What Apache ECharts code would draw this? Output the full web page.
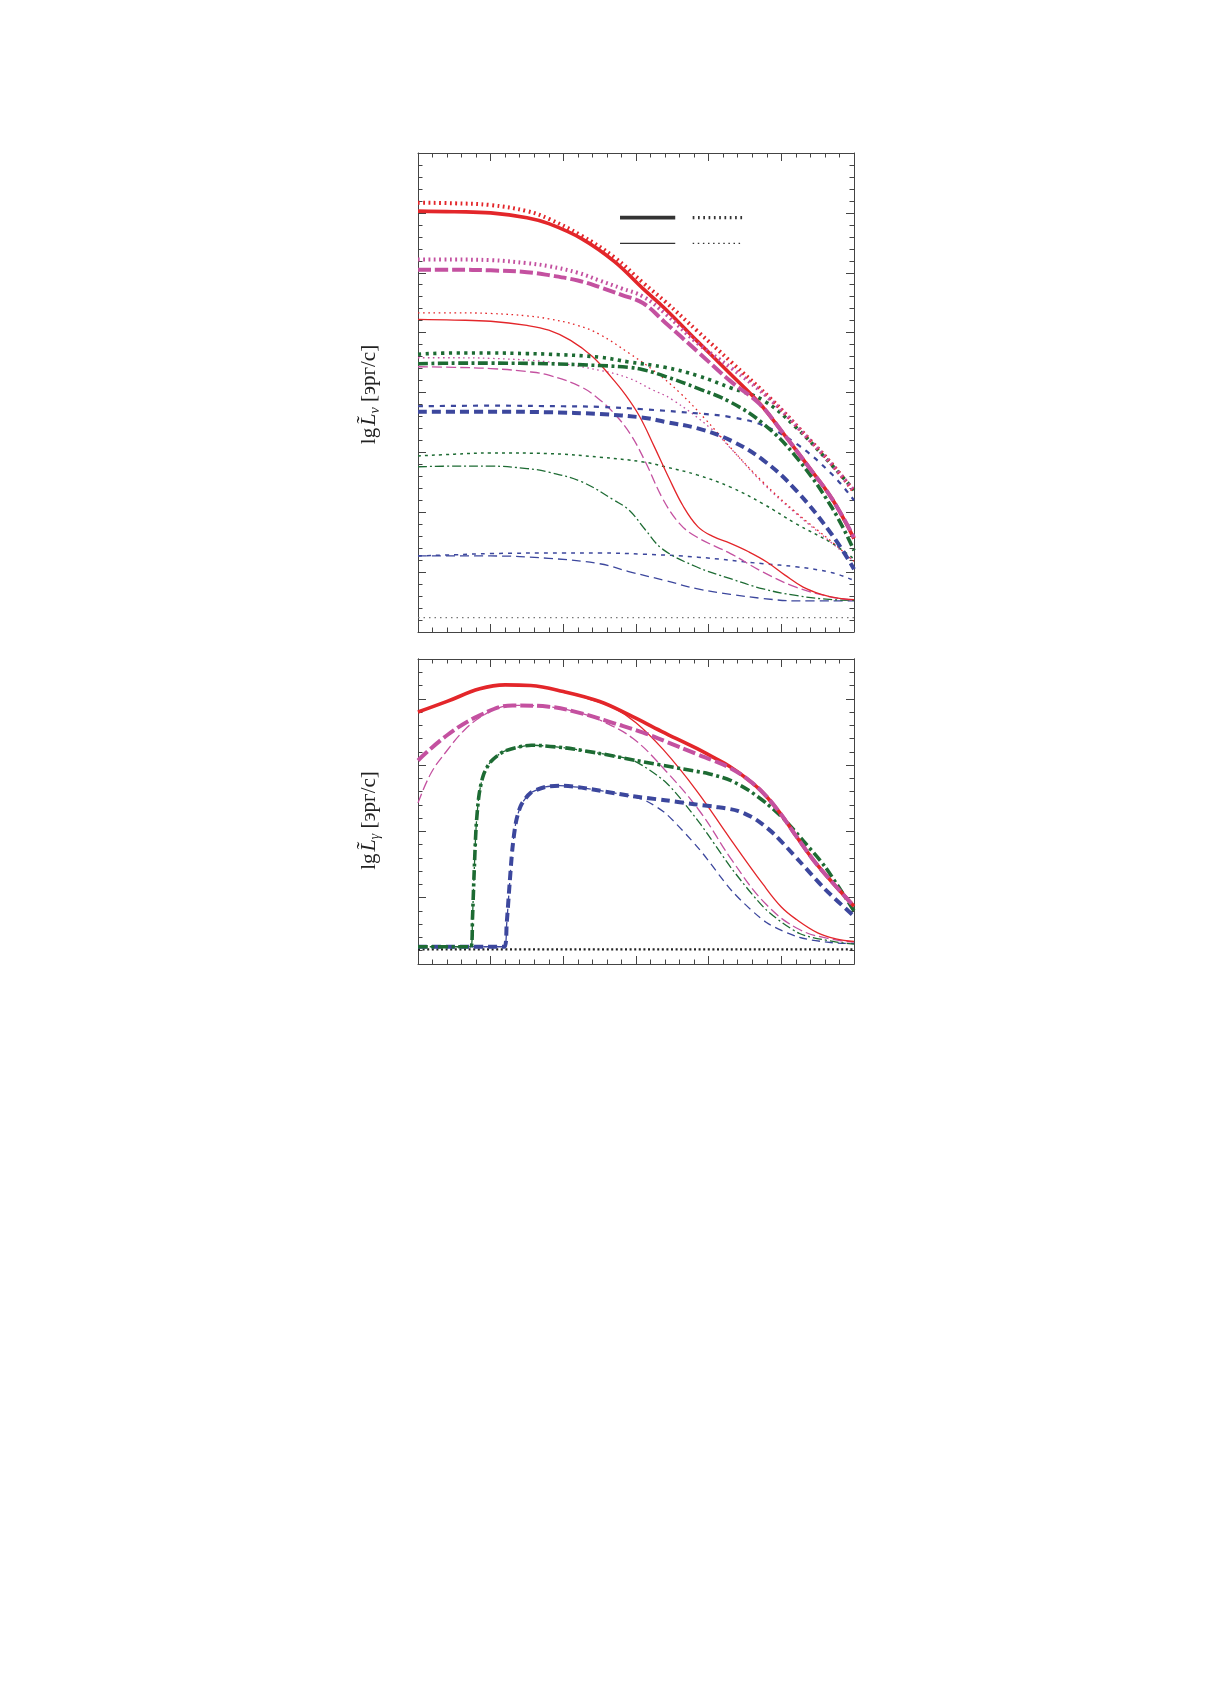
<!DOCTYPE html>
<html>
<head>
<meta charset="utf-8">
<script src="https://cdn.jsdelivr.net/npm/echarts@6/dist/echarts.min.js"></script>
<style>
html,body{margin:0;padding:0;background:#fff;}
#chart{width:1210px;height:1683px;}
</style>
</head>
<body>
<div id="chart"></div>
<script>
// ---------- Top panel: lg L~_nu ----------
const xTicks = [0, 1, 2, 3, 4, 5, 6];
const nuRedThick = [[0,7.03],[0.5,7.02],[1,7.00],[1.5,6.92],[1.8,6.82],[2.25,6.57],[2.7,6.19],[3.1,5.73],[3.4,5.40],[3.85,4.85],[4.3,4.31],[4.7,3.82],[5.0,3.36],[5.4,2.72],[5.7,2.22],[6,1.56]];
const nuRedThickDot = [[0,7.17],[0.5,7.16],[1,7.13],[1.5,7.03],[1.8,6.90],[2.25,6.62],[2.7,6.26],[3.1,5.83],[3.4,5.52],[3.85,5.02],[4.3,4.52],[4.85,3.90],[5.4,3.20],[5.7,2.80],[6,2.34]];
const nuMagThick = [[0,6.05],[0.5,6.05],[1,6.04],[1.5,6.01],[1.8,5.96],[2.2,5.87],[2.5,5.76],[2.8,5.63],[3.1,5.49],[3.4,5.17],[3.85,4.68],[4.3,4.19],[4.7,3.81],[5.0,3.36],[5.4,2.72],[5.7,2.22],[6,1.58]];
const nuMagThickDot = [[0,6.22],[0.5,6.22],[1,6.21],[1.5,6.16],[1.8,6.11],[2.2,6.00],[2.5,5.87],[2.8,5.74],[3.1,5.60],[3.4,5.32],[3.85,4.82],[4.3,4.42],[4.85,3.88],[5.4,3.19],[5.7,2.79],[6,2.36]];
const nuRedThin = [[0,5.22],[0.5,5.21],[1,5.19],[1.5,5.12],[1.8,5.04],[2.1,4.87],[2.4,4.60],[2.65,4.27],[2.85,3.97],[3.05,3.60],[3.25,3.10],[3.45,2.58],[3.65,2.10],[3.85,1.76],[4.05,1.60],[4.3,1.48],[4.55,1.34],[4.8,1.17],[5.05,0.95],[5.3,0.75],[5.55,0.63],[5.8,0.56],[6,0.54]];
const nuRedThinDot = [[0,5.33],[0.5,5.33],[1,5.32],[1.5,5.28],[1.8,5.23],[2.2,5.12],[2.5,4.97],[2.9,4.66],[3.25,4.36],[3.6,4.00],[3.95,3.56],[4.3,3.08],[4.75,2.50],[5.2,2.00],[5.7,1.50],[6,1.18]];
const nuMagThin = [[0,4.43],[0.5,4.42],[1,4.40],[1.5,4.35],[1.8,4.29],[2.25,4.09],[2.5,3.88],[2.7,3.65],[2.92,3.31],[3.13,2.84],[3.37,2.22],[3.6,1.81],[3.83,1.59],[4.3,1.31],[4.75,1.00],[5.2,0.75],[5.7,0.58],[6,0.53]];
const nuMagThinDot = [[0,4.58],[0.5,4.58],[1,4.57],[1.8,4.51],[2.5,4.37],[2.9,4.24],[3.2,4.06],[3.5,3.88],[4.05,3.38],[4.3,3.07],[4.75,2.48],[5.2,1.98],[5.7,1.48],[6,1.18]];
const nuGreenThick = [[0,4.48],[0.5,4.49],[1,4.49],[1.8,4.48],[2.5,4.45],[2.9,4.42],[3.1,4.38],[3.4,4.27],[3.85,4.07],[4.3,3.84],[4.75,3.48],[5.2,2.93],[5.7,2.07],[6,1.36]];
const nuGreenThickDot = [[0,4.64],[0.5,4.66],[1,4.66],[1.5,4.65],[1.8,4.64],[2.5,4.59],[2.9,4.51],[3.4,4.42],[3.85,4.28],[4.3,4.08],[4.75,3.87],[5.2,3.42],[5.7,2.78],[6,2.37]];
const nuGreenThin = [[0,2.76],[0.5,2.77],[1,2.77],[1.5,2.73],[1.8,2.67],[2.25,2.51],[2.7,2.20],[2.91,2.03],[3.12,1.72],[3.37,1.38],[3.83,1.09],[4.3,0.89],[4.75,0.72],[5.2,0.61],[5.7,0.54],[6,0.53]];
const nuGreenThinDot = [[0,2.94],[0.5,2.97],[1,2.99],[1.8,2.98],[2.5,2.92],[3.1,2.84],[3.4,2.76],[3.85,2.62],[4.3,2.42],[4.75,2.14],[5.2,1.81],[5.7,1.48],[6,1.22]];
const nuBlueThick = [[0,3.68],[1,3.68],[1.8,3.67],[2.5,3.64],[3.1,3.58],[3.4,3.51],[3.85,3.40],[4.3,3.20],[4.75,2.87],[5.2,2.37],[5.7,1.62],[6,1.05]];
const nuBlueThickDot = [[0,3.77],[1,3.78],[2,3.77],[2.5,3.76],[3.1,3.72],[3.85,3.65],[4.3,3.59],[4.75,3.45],[5.2,3.15],[5.7,2.63],[6,2.20]];
const nuBlueThin = [[0,1.27],[1,1.27],[1.8,1.23],[2.5,1.14],[2.9,1.01],[3.4,0.86],[3.85,0.72],[4.3,0.63],[4.75,0.56],[5.2,0.52],[6,0.52]];
const nuBlueThinDot = [[0,1.27],[0.5,1.29],[1,1.31],[2,1.32],[2.5,1.32],[3.1,1.30],[3.85,1.25],[4.75,1.14],[5.2,1.09],[5.7,0.99],[6,0.86]];
const nuBaseline = [[0,0.24],[6,0.24]];
// legend samples (no text in the original)
const legThickSolid = [[2.78,6.92],[3.54,6.92]];
const legThickDot = [[3.78,6.92],[4.47,6.92]];
const legThinSolid = [[2.78,6.49],[3.54,6.49]];
const legThinDot = [[3.78,6.49],[4.47,6.49]];

// ---------- Bottom panel: lg L~_gamma ----------
const gRedThick = [[0,3.80],[0.4,3.96],[0.85,4.15],[1.2,4.21],[1.55,4.20],[2.0,4.11],[2.5,3.96],[2.9,3.76],[3.35,3.51],[3.8,3.27],[4.06,3.12],[4.29,2.98],[4.52,2.80],[4.75,2.58],[4.98,2.28],[5.21,1.92],[5.44,1.57],[5.67,1.27],[6,0.87]];
const gRedThin = [[0,3.80],[0.4,3.96],[0.85,4.15],[1.2,4.21],[1.55,4.20],[2.0,4.11],[2.4,3.98],[2.7,3.86],[3.0,3.64],[3.37,3.24],[3.83,2.62],[4.29,1.90],[4.75,1.20],[5.0,0.86],[5.21,0.67],[5.5,0.47],[5.75,0.38],[6,0.34]];
const gMagThick = [[0,3.07],[0.4,3.45],[0.85,3.75],[1.3,3.90],[1.8,3.88],[2.25,3.78],[2.7,3.63],[3.1,3.49],[3.4,3.36],[3.85,3.16],[4.06,3.07],[4.29,2.96],[4.52,2.80],[4.75,2.58],[4.98,2.28],[5.21,1.92],[5.44,1.57],[5.67,1.27],[6,0.87]];
const gMagThin = [[0,2.43],[0.18,2.88],[0.4,3.22],[0.64,3.53],[0.87,3.73],[1.1,3.86],[1.3,3.90],[1.8,3.88],[2.25,3.78],[2.5,3.68],[2.96,3.40],[3.42,2.90],[3.88,2.30],[4.33,1.55],[4.79,0.90],[5.25,0.52],[5.71,0.37],[6,0.33]];
const gGreenThick = [[0,0.26],[0.73,0.26],[0.75,0.7],[0.77,1.3],[0.80,2.07],[0.84,2.55],[0.9,2.85],[1.0,3.05],[1.19,3.21],[1.56,3.30],[2.02,3.26],[2.48,3.18],[3.0,3.07],[3.65,2.94],[4.0,2.87],[4.3,2.77],[4.55,2.62],[4.8,2.42],[5.05,2.17],[5.3,1.86],[5.6,1.47],[6,0.80]];
const gGreenThin = [[0,0.26],[0.73,0.26],[0.75,0.7],[0.77,1.3],[0.80,2.07],[0.84,2.55],[0.9,2.85],[1.0,3.05],[1.19,3.21],[1.56,3.30],[2.02,3.26],[2.48,3.18],[2.96,3.07],[3.42,2.73],[3.88,2.12],[4.33,1.42],[4.79,0.82],[5.25,0.46],[5.71,0.34],[6,0.30]];
const gBlueThick = [[0,0.26],[1.19,0.26],[1.22,0.6],[1.26,1.2],[1.30,1.75],[1.35,2.15],[1.42,2.40],[1.55,2.58],[1.75,2.67],[1.95,2.69],[2.25,2.66],[2.96,2.53],[3.4,2.47],[3.8,2.41],[4.1,2.37],[4.4,2.31],[4.65,2.18],[4.9,1.96],[5.25,1.55],[5.6,1.13],[6,0.72]];
const gBlueThin = [[0,0.26],[1.19,0.26],[1.22,0.6],[1.26,1.2],[1.30,1.75],[1.35,2.15],[1.42,2.40],[1.55,2.58],[1.75,2.67],[1.95,2.69],[2.25,2.66],[2.9,2.54],[3.14,2.46],[3.42,2.26],[3.88,1.72],[4.33,1.09],[4.79,0.63],[5.25,0.40],[5.71,0.32],[6,0.31]];
const gBaseline = [[0,0.22],[6,0.22]];

const C = { red:'#e3262a', mag:'#c451a0', green:'#1d6b33', blue:'#3c479d', gray:'#777', black:'#222', leg:'#333' };
const THICK = 3.6, THIN = 1.3;
const FONT = "'Liberation Serif','DejaVu Serif',serif";
const FRAME = '#444';

function line(data, color, width, type, grid, z, smooth) {
  return {
    type: 'line', data: data, xAxisIndex: grid === 0 ? 0 : 2, yAxisIndex: grid === 0 ? 0 : 2,
    smooth: smooth === undefined ? 0.4 : smooth, showSymbol: false, symbol: 'none', silent: true, animation: false,
    z: z || 2, clip: true,
    lineStyle: { color: color, width: width, type: type, cap: 'butt', join: 'round' }
  };
}

function xAx(grid, pos) {
  return {
    type: 'value', gridIndex: grid, position: pos, min: 0, max: 6, interval: 1,
    axisLine: { show: true, onZero: false, lineStyle: { color: FRAME, width: 1 } },
    axisTick: { show: true, inside: true, length: 8, lineStyle: { color: FRAME, width: 1 } },
    minorTick: { show: true, splitNumber: 5, length: 4.5, lineStyle: { color: FRAME, width: 1 } },
    axisLabel: { show: false }, splitLine: { show: false }, minorSplitLine: { show: false }
  };
}
function yAx(grid, pos, max, interval, tickLen, minor, name, shift) {
  const a = {
    type: 'value', gridIndex: grid, position: pos, min: 0, max: max, interval: interval,
    axisLine: { show: true, onZero: false, lineStyle: { color: FRAME, width: 1 } },
    axisTick: { show: true, inside: true, length: tickLen, lineStyle: { color: FRAME, width: 1 } },
    minorTick: { show: minor, splitNumber: 5, length: 4.5, lineStyle: { color: FRAME, width: 1 } },
    axisLabel: { show: false }, splitLine: { show: false }, minorSplitLine: { show: false }
  };
  if (name) {
    a.name = name;
    a.nameLocation = 'middle';
    a.nameGap = 35;
    a.nameRotate = 90;
    a.nameTextStyle = {
      fontFamily: FONT, fontSize: 21, color: '#222', padding: [0, shift || 0, 0, 0],
      rich: {
        n: { fontFamily: FONT, fontSize: 21, color: '#222', lineHeight: 28, verticalAlign: 'middle' },
        i: { fontFamily: FONT, fontSize: 22, fontStyle: 'italic', color: '#222', lineHeight: 28, verticalAlign: 'middle', padding: [0, 0, 0, 2] },
        s: { fontFamily: FONT, fontSize: 14, fontStyle: 'italic', color: '#222', lineHeight: 28, verticalAlign: 'bottom', padding: [0, 0, 1, 0] }
      }
    };
  }
  return a;
}

const chart = echarts.init(document.getElementById('chart'), null, { renderer: 'canvas' });
chart.setOption({
  backgroundColor: '#ffffff',
  animation: false,
  grid: [
    { left: 418, top: 153, width: 436, height: 479, containLabel: false },
    { left: 418, top: 659, width: 436, height: 305, containLabel: false }
  ],
  xAxis: [xAx(0, 'bottom'), xAx(0, 'top'), xAx(1, 'bottom'), xAx(1, 'top')],
  yAxis: [
    yAx(0, 'left', 8, 1, 8, true, '{n|lg}{i|L\u0303}{s|\u03bd}{n| [эрг/с]}', 4),
    yAx(0, 'right', 8, 1, 8, true),
    yAx(1, 'left', 4.6, 1, 8, false, '{n|lg}{i|L\u0303}{s|\u03b3}{n| [эрг/с]}', 18),
    yAx(1, 'right', 4.6, 1, 8, false),
    yAx(1, 'left', 4.6, 0.2, 4.5, false),
    yAx(1, 'right', 4.6, 0.2, 4.5, false)
  ],
  series: [
    // top panel
    line(nuBaseline, C.gray, 1.4, [1.5, 4], 0, 1, false),
    line(nuBlueThin, C.blue, THIN, [9, 5], 0),
    line(nuBlueThinDot, C.blue, 1.5, [4, 5], 0),
    line(nuGreenThinDot, C.green, 1.5, [3, 4], 0),
    line(nuGreenThin, C.green, THIN, [9, 3, 2, 3], 0),
    line(nuMagThin, C.mag, THIN, [10, 4], 0),
    line(nuMagThinDot, C.mag, 1.3, [1.6, 3.4], 0),
    line(nuRedThinDot, C.red, 1.3, [1.6, 3.6], 0),
    line(nuRedThin, C.red, THIN, 'solid', 0),
    line(nuBlueThickDot, C.blue, 2.2, [5, 6], 0, 3),
    line(nuBlueThick, C.blue, 4, [9, 5], 0, 3),
    line(nuGreenThickDot, C.green, 3.6, [3.2, 4.5], 0, 3),
    line(nuGreenThick, C.green, 3.6, [10, 3.5, 3, 3.5], 0, 3),
    line(nuRedThickDot, C.red, 4, [1.8, 3.5], 0, 3),
    line(nuRedThick, C.red, THICK, 'solid', 0, 3),
    line(nuMagThickDot, C.mag, 4, [1.8, 3.5], 0, 4),
    line(nuMagThick, C.mag, 4, [13, 4], 0, 4),
    line(legThickSolid, C.leg, 3.6, 'solid', 0, 5, false),
    line(legThickDot, C.leg, 3.3, [1.7, 3.6], 0, 5, false),
    line(legThinSolid, C.leg, 1.3, 'solid', 0, 5, false),
    line(legThinDot, C.leg, 1.2, [1.5, 3.6], 0, 5, false),
    // bottom panel
    line(gBaseline, C.black, 2.4, [2, 2.6], 1, 1, false),
    line(gBlueThin, C.blue, THIN, [8, 5], 1, 2, 0.25),
    line(gGreenThin, C.green, THIN, [9, 3, 2, 3], 1, 2, 0.25),
    line(gMagThin, C.mag, THIN, [10, 4], 1),
    line(gRedThin, C.red, THIN, 'solid', 1),
    line(gBlueThick, C.blue, 4, [9, 5], 1, 3, 0.25),
    line(gGreenThick, C.green, 3.6, [10, 3.5, 3, 3.5], 1, 3, 0.25),
    line(gRedThick, C.red, THICK, 'solid', 1, 3),
    line(gMagThick, C.mag, 4, [13, 4], 1, 4)
  ]
});
</script>
</body>
</html>
